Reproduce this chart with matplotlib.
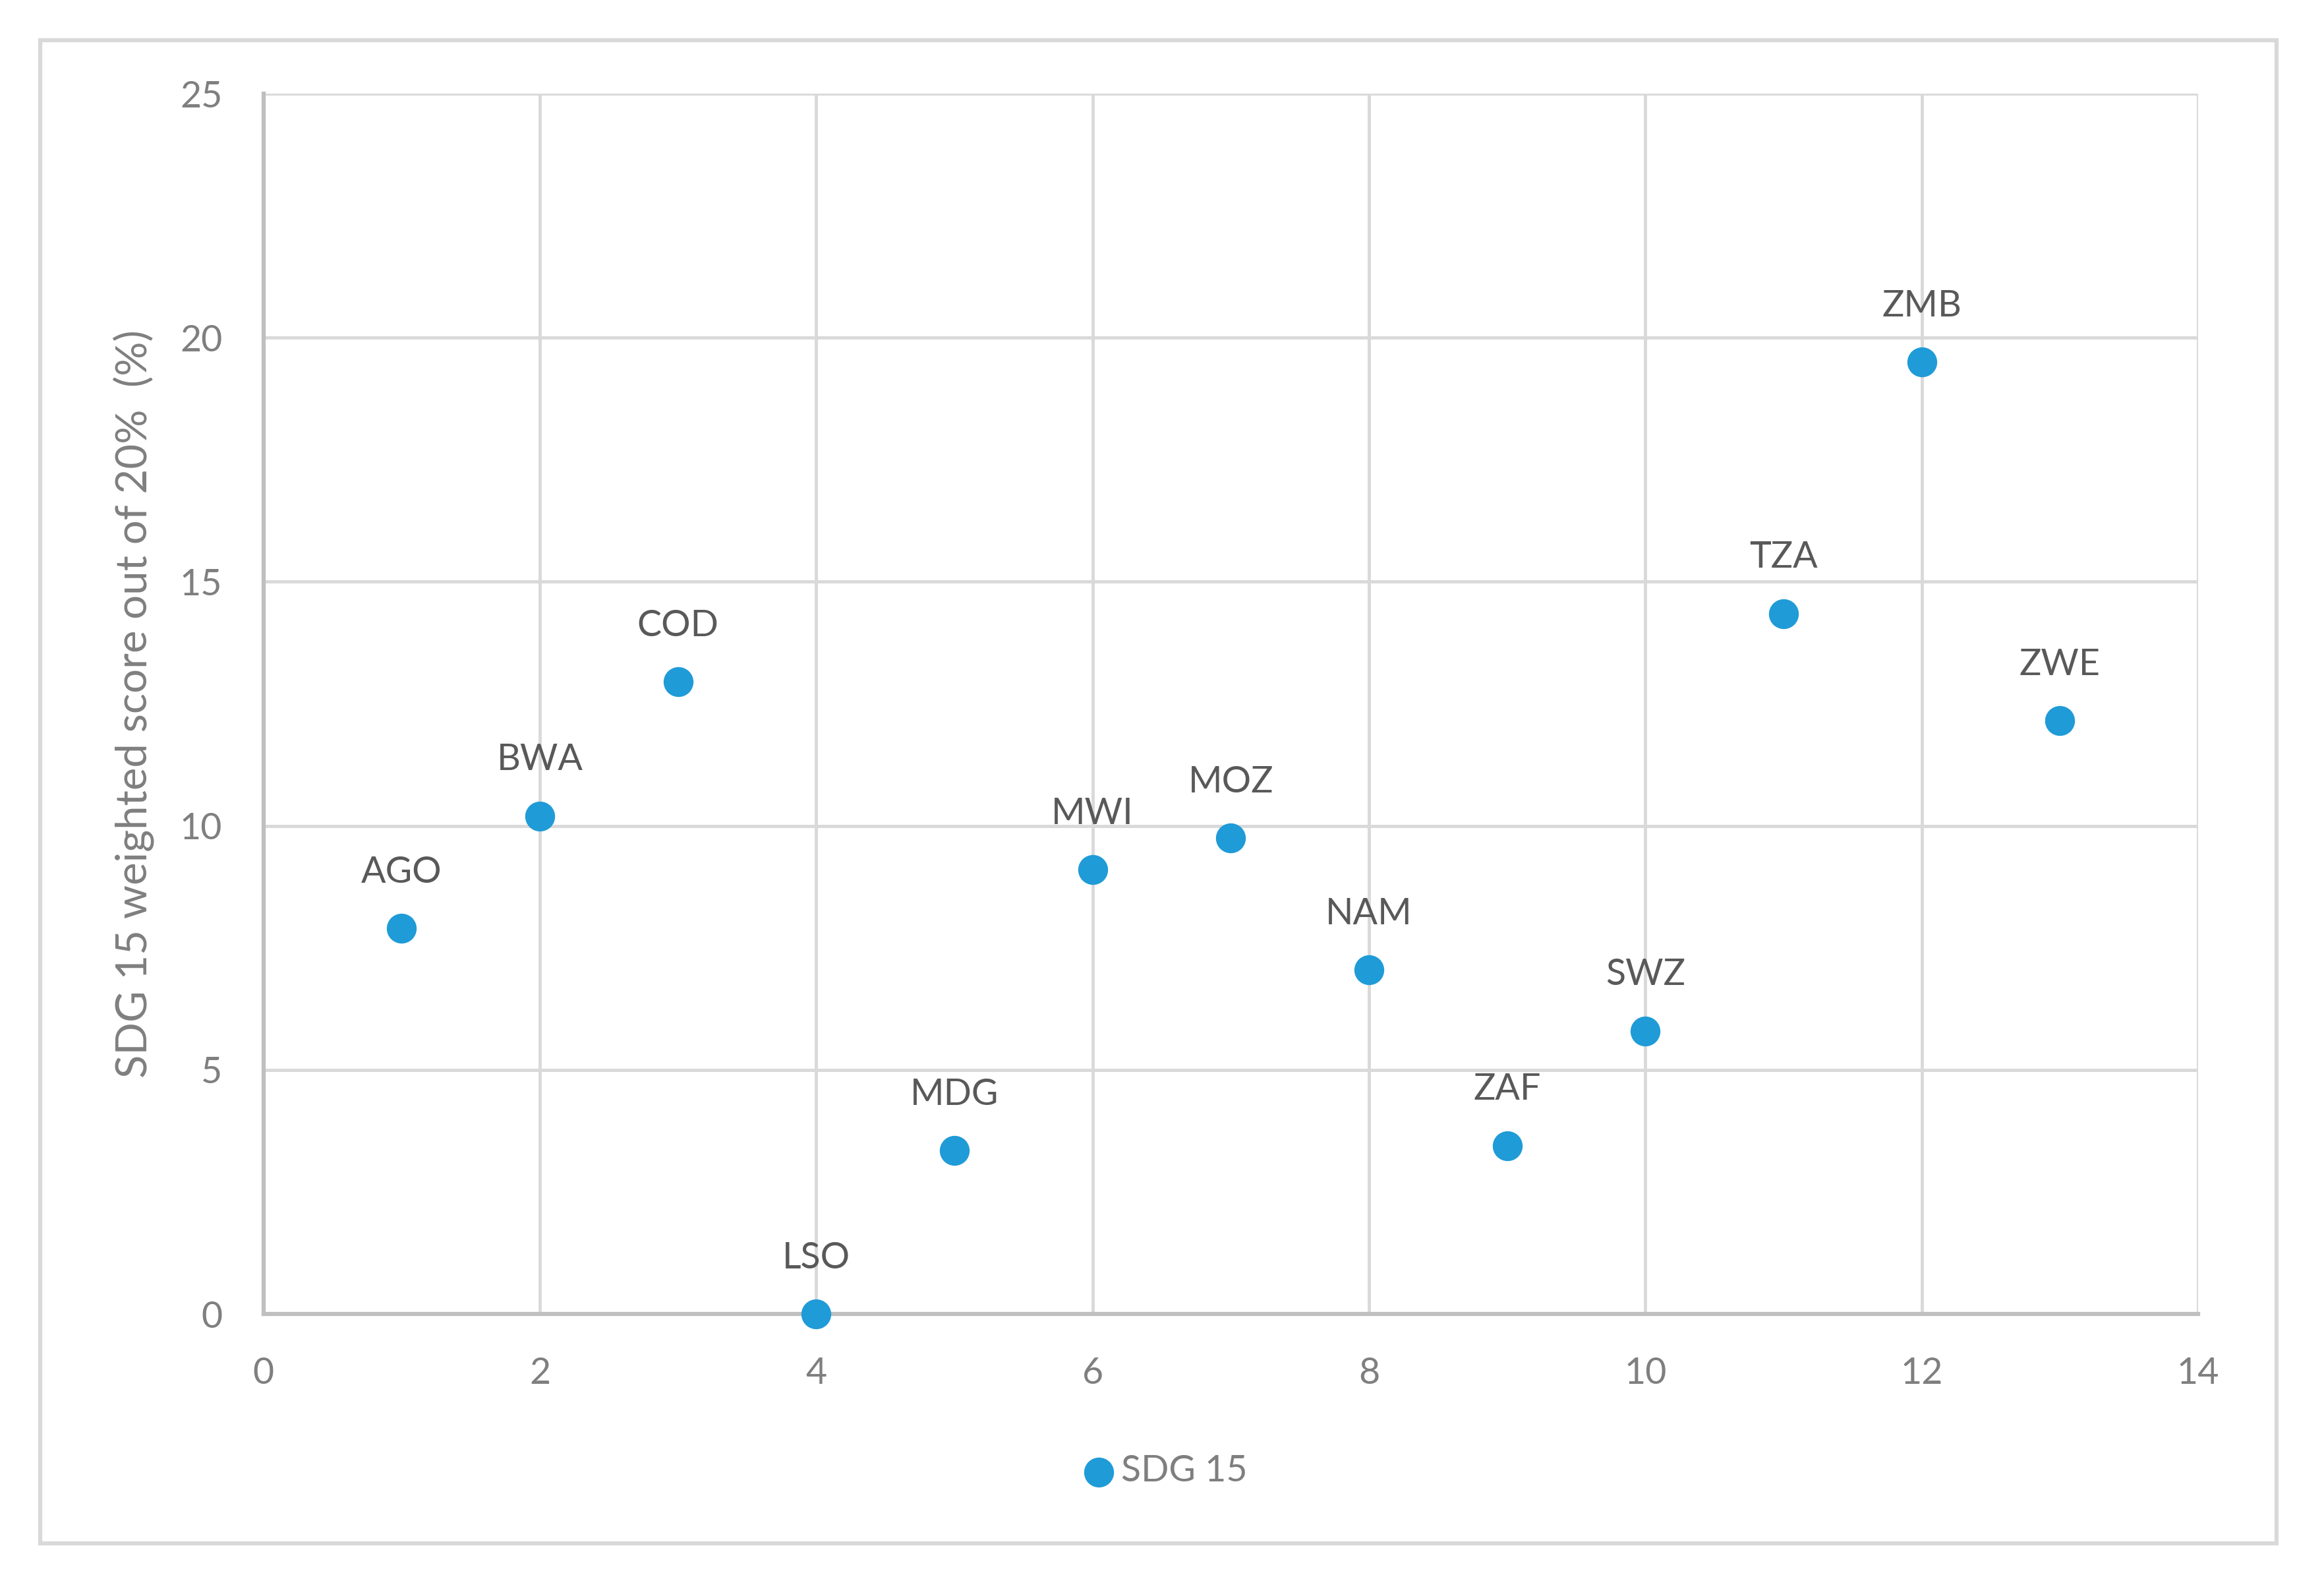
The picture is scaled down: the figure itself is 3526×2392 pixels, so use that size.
import matplotlib
matplotlib.use("Agg")
import matplotlib.pyplot as plt
from matplotlib.patches import Rectangle

plt.rcParams['font.family'] = ['Lato', 'DejaVu Sans']

# data
pays = ["AGO", "BWA", "COD", "LSO", "MDG", "MWI", "MOZ", "NAM", "ZAF", "SWZ", "TZA", "ZMB", "ZWE"]
rang = [1, 2, 3, 4, 5, 6, 7, 8, 9, 10, 11, 12, 13]
score = [7.9, 10.2, 12.95, 0.0, 3.35, 9.1, 9.75, 7.05, 3.45, 5.8, 14.35, 19.5, 12.15]
xticks = [0, 2, 4, 6, 8, 10, 12, 14]
yticks = [0, 5, 10, 15, 20, 25]

bleu = "#1F9BD7"
gris_grille = "#D9D9D9"
gris_axe = "#BFBFBF"
gris_texte = "#7F7F7F"
gris_label = "#595959"

fig = plt.figure(figsize=(35.26, 23.92), dpi=100)
ax = fig.add_axes([0.1134, 0.1668, 0.8324, 0.7738])

ax.scatter(rang, score, s=1000, color=bleu, zorder=3, clip_on=False, label="SDG 15")
for p, x, y in zip(pays, rang, score):
    ax.annotate(p, (x, y), xytext=(0, 50), textcoords="offset points",
                ha="center", va="baseline", fontsize=40, color=gris_label)

ax.set_xlim(0, 14)
ax.set_ylim(0, 25)
ax.set_xticks(xticks)
ax.set_yticks(yticks)
ax.grid(True, color=gris_grille, linewidth=3.5, zorder=0)
ax.set_axisbelow(True)
ax.tick_params(length=0, labelsize=40, labelcolor=gris_texte)
ax.tick_params(axis="y", pad=45)
ax.tick_params(axis="x", pad=47)
for s in ["top", "right"]:
    ax.spines[s].set_visible(False)
for s in ["left", "bottom"]:
    ax.spines[s].set_color(gris_axe)
    ax.spines[s].set_linewidth(4.5)

ax.set_ylabel("SDG 15 weighted score out of 20%  (%)", fontsize=47, color=gris_texte)
ax.yaxis.set_label_coords(-0.0566, 0.5)

leg = fig.legend(loc="center", bbox_to_anchor=(0.502, 0.067), frameon=False,
                 fontsize=40, handlelength=0.7, handletextpad=0.25, markerscale=1.0)
for t in leg.get_texts():
    t.set_color(gris_texte)

# cadre extérieur du graphique
fig.patches.append(Rectangle((0.0173, 0.0213), 0.9623, 0.953, transform=fig.transFigure,
                             fill=False, edgecolor=gris_grille, linewidth=4.5))

fig.savefig("out.png", dpi=100)
